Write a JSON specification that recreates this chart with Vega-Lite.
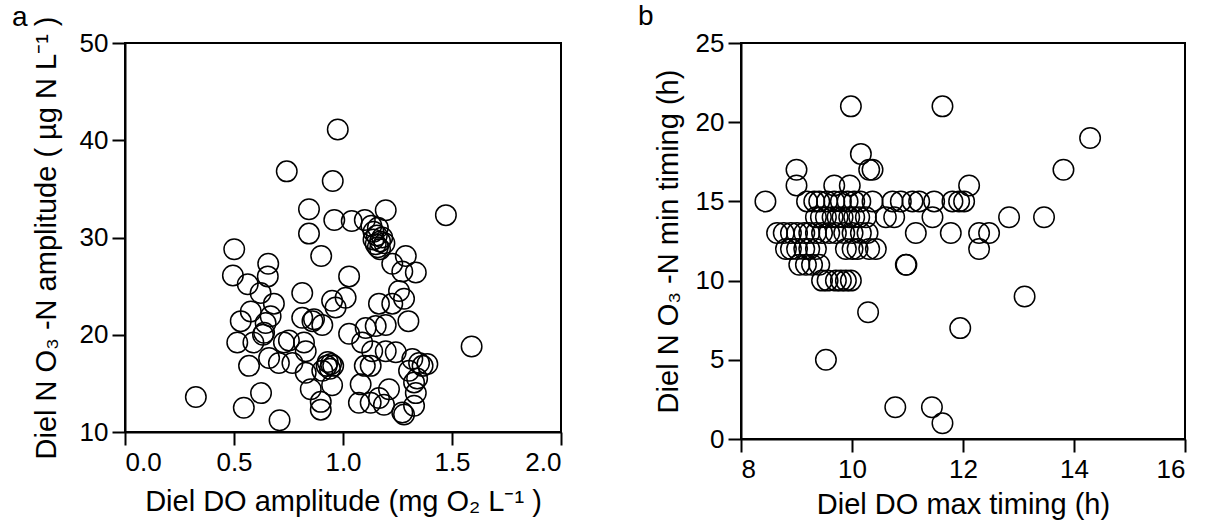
{
  "$schema": "https://vega.github.io/schema/vega-lite/v6.json",
  "background": "white",
  "padding": {"left": 11, "top": 2, "right": 5, "bottom": 5},
  "spacing": 180,
  "bounds": "flush",
  "config": {
    "font": "Liberation Sans",
    "view": {"stroke": "black", "strokeWidth": 2},
    "axis": {
      "grid": false,
      "domainColor": "black",
      "domainWidth": 2,
      "tickColor": "black",
      "tickWidth": 2,
      "tickSize": 13,
      "labelFontSize": 26,
      "labelColor": "black",
      "labelPadding": 4,
      "titleFontSize": 29,
      "titleFontWeight": "normal",
      "titleColor": "black",
      "labelFont": "Liberation Sans",
      "titleFont": "Liberation Sans"
    },
    "title": {"fontSize": 28, "fontWeight": "normal", "color": "black", "font": "Liberation Sans", "baseline": "alphabetic"}
  },
  "datasets": {
    "amp": [
      {"do_amp": 0.325, "no3_amp": 13.6}, {"do_amp": 0.545, "no3_amp": 12.5}, {"do_amp": 0.624, "no3_amp": 14.0}, {"do_amp": 0.709, "no3_amp": 11.2},
      {"do_amp": 0.501, "no3_amp": 28.8}, {"do_amp": 0.495, "no3_amp": 26.1}, {"do_amp": 0.563, "no3_amp": 25.2}, {"do_amp": 0.657, "no3_amp": 27.3},
      {"do_amp": 0.655, "no3_amp": 26.0}, {"do_amp": 0.742, "no3_amp": 36.8}, {"do_amp": 0.976, "no3_amp": 41.1}, {"do_amp": 0.953, "no3_amp": 35.8},
      {"do_amp": 0.844, "no3_amp": 32.9}, {"do_amp": 0.844, "no3_amp": 30.4}, {"do_amp": 0.9, "no3_amp": 28.1}, {"do_amp": 0.96, "no3_amp": 31.8},
      {"do_amp": 1.04, "no3_amp": 31.7}, {"do_amp": 1.10, "no3_amp": 31.8}, {"do_amp": 1.196, "no3_amp": 32.8}, {"do_amp": 1.472, "no3_amp": 32.3},
      {"do_amp": 1.59, "no3_amp": 18.8},
      {"do_amp": 1.14, "no3_amp": 29.8}, {"do_amp": 1.15, "no3_amp": 29.3}, {"do_amp": 1.16, "no3_amp": 29.0}, {"do_amp": 1.17, "no3_amp": 29.6},
      {"do_amp": 1.155, "no3_amp": 30.2}, {"do_amp": 1.18, "no3_amp": 30.0}, {"do_amp": 1.14, "no3_amp": 30.6}, {"do_amp": 1.17, "no3_amp": 28.8},
      {"do_amp": 1.19, "no3_amp": 29.4}, {"do_amp": 1.13, "no3_amp": 31.2}, {"do_amp": 1.16, "no3_amp": 31.0},
      {"do_amp": 1.288, "no3_amp": 28.1}, {"do_amp": 1.334, "no3_amp": 26.4}, {"do_amp": 1.272, "no3_amp": 26.5}, {"do_amp": 1.226, "no3_amp": 27.3},
      {"do_amp": 1.028, "no3_amp": 26.0}, {"do_amp": 1.257, "no3_amp": 24.5}, {"do_amp": 1.28, "no3_amp": 23.7}, {"do_amp": 1.165, "no3_amp": 23.2},
      {"do_amp": 1.226, "no3_amp": 23.2}, {"do_amp": 1.30, "no3_amp": 21.4}, {"do_amp": 1.196, "no3_amp": 21.0}, {"do_amp": 1.15, "no3_amp": 20.9},
      {"do_amp": 1.104, "no3_amp": 20.7}, {"do_amp": 0.95, "no3_amp": 23.5}, {"do_amp": 1.012, "no3_amp": 23.8}, {"do_amp": 0.966, "no3_amp": 22.8},
      {"do_amp": 0.86, "no3_amp": 21.4}, {"do_amp": 0.905, "no3_amp": 21.0}, {"do_amp": 0.813, "no3_amp": 24.3}, {"do_amp": 0.622, "no3_amp": 24.3},
      {"do_amp": 0.683, "no3_amp": 23.2}, {"do_amp": 0.531, "no3_amp": 21.4}, {"do_amp": 0.577, "no3_amp": 22.4}, {"do_amp": 0.668, "no3_amp": 21.9},
      {"do_amp": 0.638, "no3_amp": 20.2}, {"do_amp": 0.645, "no3_amp": 21.2}, {"do_amp": 0.515, "no3_amp": 19.2}, {"do_amp": 0.569, "no3_amp": 16.8},
      {"do_amp": 0.661, "no3_amp": 17.6}, {"do_amp": 0.706, "no3_amp": 17.1}, {"do_amp": 0.752, "no3_amp": 19.4}, {"do_amp": 0.729, "no3_amp": 19.2},
      {"do_amp": 0.768, "no3_amp": 17.1}, {"do_amp": 0.821, "no3_amp": 19.2}, {"do_amp": 0.813, "no3_amp": 21.75}, {"do_amp": 0.867, "no3_amp": 21.6},
      {"do_amp": 0.829, "no3_amp": 18.3}, {"do_amp": 0.829, "no3_amp": 16.1}, {"do_amp": 0.852, "no3_amp": 14.4}, {"do_amp": 0.898, "no3_amp": 13.1},
      {"do_amp": 0.898, "no3_amp": 12.3}, {"do_amp": 0.589, "no3_amp": 19.2}, {"do_amp": 0.633, "no3_amp": 20.0},
      {"do_amp": 1.028, "no3_amp": 20.1}, {"do_amp": 1.088, "no3_amp": 19.2}, {"do_amp": 1.134, "no3_amp": 18.3}, {"do_amp": 1.196, "no3_amp": 18.3},
      {"do_amp": 1.242, "no3_amp": 18.2}, {"do_amp": 1.318, "no3_amp": 17.5}, {"do_amp": 1.349, "no3_amp": 17.1}, {"do_amp": 1.387, "no3_amp": 17.0},
      {"do_amp": 1.303, "no3_amp": 16.3}, {"do_amp": 1.365, "no3_amp": 16.8},
      {"do_amp": 0.93, "no3_amp": 17.2}, {"do_amp": 0.945, "no3_amp": 17.0}, {"do_amp": 0.955, "no3_amp": 16.8}, {"do_amp": 0.94, "no3_amp": 16.5},
      {"do_amp": 0.925, "no3_amp": 16.8},
      {"do_amp": 0.905, "no3_amp": 16.3}, {"do_amp": 0.95, "no3_amp": 14.8}, {"do_amp": 1.081, "no3_amp": 14.9}, {"do_amp": 1.073, "no3_amp": 13.0},
      {"do_amp": 1.127, "no3_amp": 13.0}, {"do_amp": 1.165, "no3_amp": 13.5}, {"do_amp": 1.211, "no3_amp": 14.4}, {"do_amp": 1.188, "no3_amp": 12.8},
      {"do_amp": 1.272, "no3_amp": 12.0}, {"do_amp": 1.28, "no3_amp": 11.8}, {"do_amp": 1.326, "no3_amp": 12.7}, {"do_amp": 1.334, "no3_amp": 14.0},
      {"do_amp": 1.326, "no3_amp": 15.1}, {"do_amp": 1.127, "no3_amp": 16.8}, {"do_amp": 1.1, "no3_amp": 16.8}, {"do_amp": 1.34, "no3_amp": 15.5}
    ],
    "timing": [
      {"do_max": 9.98, "no3_min": 21}, {"do_max": 11.63, "no3_min": 21}, {"do_max": 14.29, "no3_min": 19}, {"do_max": 10.16, "no3_min": 18},
      {"do_max": 9.0, "no3_min": 17}, {"do_max": 10.31, "no3_min": 17}, {"do_max": 10.37, "no3_min": 17}, {"do_max": 13.81, "no3_min": 17},
      {"do_max": 9.0, "no3_min": 16}, {"do_max": 9.68, "no3_min": 16}, {"do_max": 9.96, "no3_min": 16}, {"do_max": 12.11, "no3_min": 16},
      {"do_max": 8.44, "no3_min": 15}, {"do_max": 9.19, "no3_min": 15}, {"do_max": 9.32, "no3_min": 15}, {"do_max": 9.41, "no3_min": 15},
      {"do_max": 9.68, "no3_min": 15}, {"do_max": 9.80, "no3_min": 15}, {"do_max": 9.92, "no3_min": 15}, {"do_max": 10.04, "no3_min": 15},
      {"do_max": 10.37, "no3_min": 15}, {"do_max": 10.73, "no3_min": 15}, {"do_max": 10.88, "no3_min": 15}, {"do_max": 11.09, "no3_min": 15},
      {"do_max": 11.21, "no3_min": 15}, {"do_max": 11.48, "no3_min": 15}, {"do_max": 11.81, "no3_min": 15}, {"do_max": 11.93, "no3_min": 15},
      {"do_max": 12.02, "no3_min": 15}, {"do_max": 9.55, "no3_min": 15}, {"do_max": 10.15, "no3_min": 15},
      {"do_max": 9.35, "no3_min": 14}, {"do_max": 9.44, "no3_min": 14}, {"do_max": 9.53, "no3_min": 14}, {"do_max": 9.65, "no3_min": 14},
      {"do_max": 9.74, "no3_min": 14}, {"do_max": 9.83, "no3_min": 14}, {"do_max": 9.95, "no3_min": 14}, {"do_max": 10.04, "no3_min": 14},
      {"do_max": 10.13, "no3_min": 14}, {"do_max": 10.25, "no3_min": 14}, {"do_max": 10.61, "no3_min": 14}, {"do_max": 10.76, "no3_min": 14},
      {"do_max": 11.45, "no3_min": 14}, {"do_max": 12.83, "no3_min": 14}, {"do_max": 13.46, "no3_min": 14},
      {"do_max": 8.65, "no3_min": 13}, {"do_max": 8.77, "no3_min": 13}, {"do_max": 8.90, "no3_min": 13}, {"do_max": 9.01, "no3_min": 13},
      {"do_max": 9.14, "no3_min": 13}, {"do_max": 9.23, "no3_min": 13}, {"do_max": 9.35, "no3_min": 13}, {"do_max": 9.46, "no3_min": 13},
      {"do_max": 9.59, "no3_min": 13}, {"do_max": 9.71, "no3_min": 13}, {"do_max": 9.86, "no3_min": 13}, {"do_max": 10.01, "no3_min": 13},
      {"do_max": 10.16, "no3_min": 13}, {"do_max": 10.28, "no3_min": 13}, {"do_max": 11.15, "no3_min": 13}, {"do_max": 11.78, "no3_min": 13},
      {"do_max": 12.29, "no3_min": 13}, {"do_max": 12.47, "no3_min": 13},
      {"do_max": 8.81, "no3_min": 12}, {"do_max": 8.90, "no3_min": 12}, {"do_max": 9.01, "no3_min": 12}, {"do_max": 9.14, "no3_min": 12},
      {"do_max": 9.23, "no3_min": 12}, {"do_max": 9.35, "no3_min": 12}, {"do_max": 9.89, "no3_min": 12}, {"do_max": 10.01, "no3_min": 12},
      {"do_max": 10.10, "no3_min": 12}, {"do_max": 10.31, "no3_min": 12}, {"do_max": 10.43, "no3_min": 12}, {"do_max": 12.29, "no3_min": 12},
      {"do_max": 9.05, "no3_min": 11}, {"do_max": 9.17, "no3_min": 11}, {"do_max": 9.28, "no3_min": 11}, {"do_max": 9.41, "no3_min": 11},
      {"do_max": 10.97, "no3_min": 11}, {"do_max": 10.98, "no3_min": 11},
      {"do_max": 9.46, "no3_min": 10}, {"do_max": 9.56, "no3_min": 10}, {"do_max": 9.71, "no3_min": 10}, {"do_max": 9.80, "no3_min": 10},
      {"do_max": 9.89, "no3_min": 10}, {"do_max": 9.98, "no3_min": 10},
      {"do_max": 10.29, "no3_min": 8}, {"do_max": 13.11, "no3_min": 9}, {"do_max": 11.95, "no3_min": 7}, {"do_max": 9.53, "no3_min": 5},
      {"do_max": 10.78, "no3_min": 2}, {"do_max": 11.44, "no3_min": 2}, {"do_max": 11.63, "no3_min": 1}
    ]
  },
  "hconcat": [
    {
      "width": 436,
      "height": 389,
      "title": {"text": "a", "anchor": "start", "frame": "group", "dx": -113, "offset": -16},
      "data": {"name": "amp"},
      "mark": {"type": "point", "shape": "circle", "filled": false, "stroke": "black", "strokeWidth": 1.5, "size": 420, "opacity": 1},
      "encoding": {
        "x": {"field": "do_amp", "type": "quantitative", "scale": {"domain": [0, 2], "nice": false},
              "axis": {"values": [0, 0.5, 1, 1.5, 2], "format": ".1f", "title": "Diel DO amplitude (mg O₂ L⁻¹ )", "titlePadding": 12}},
        "y": {"field": "no3_amp", "type": "quantitative", "scale": {"domain": [10, 50], "nice": false, "zero": false},
              "axis": {"values": [10, 20, 30, 40, 50], "title": "Diel N O₃ -N amplitude ( µg N L⁻¹ )", "titlePadding": 18}}
      }
    },
    {
      "width": 444,
      "height": 396,
      "title": {"text": "b", "anchor": "start", "frame": "group", "dx": -103, "offset": -1},
      "data": {"name": "timing"},
      "mark": {"type": "point", "shape": "circle", "filled": false, "stroke": "black", "strokeWidth": 1.5, "size": 420, "opacity": 1},
      "encoding": {
        "x": {"field": "do_max", "type": "quantitative", "scale": {"domain": [8, 16], "nice": false, "zero": false},
              "axis": {"values": [8, 10, 12, 14, 16], "title": "Diel DO max timing (h)", "titlePadding": 8}},
        "y": {"field": "no3_min", "type": "quantitative", "scale": {"domain": [0, 25], "nice": false},
              "axis": {"values": [0, 5, 10, 15, 20, 25], "title": "Diel N O₃ -N min timing (h)", "titlePadding": 12}}
      }
    }
  ]
}
